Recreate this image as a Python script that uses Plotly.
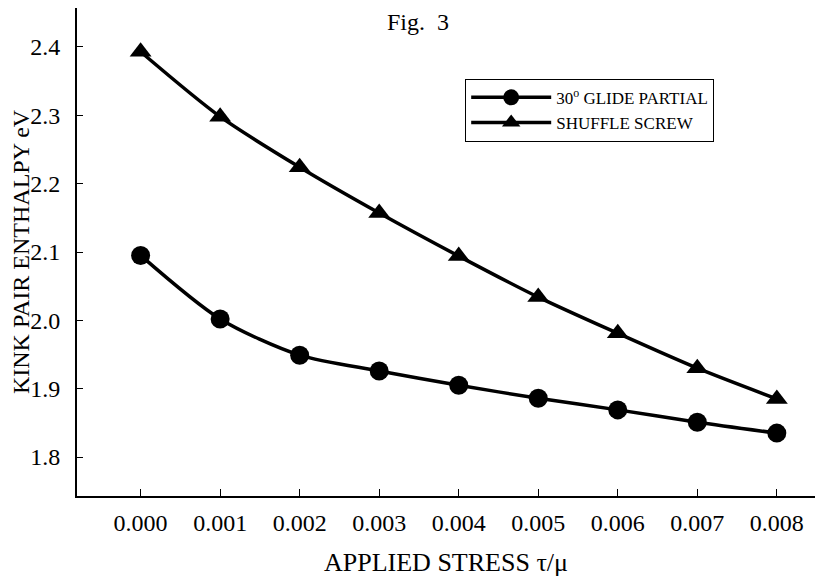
import plotly.graph_objects as go

stress = [0.000, 0.001, 0.002, 0.003, 0.004, 0.005, 0.006, 0.007, 0.008]
glide_partial = [2.095, 2.002, 1.949, 1.926, 1.905, 1.886, 1.869, 1.851, 1.835]
shuffle_screw = [2.393, 2.298, 2.224, 2.157, 2.094, 2.034, 1.981, 1.930, 1.885]
x_tick_labels = ["0.000", "0.001", "0.002", "0.003", "0.004", "0.005", "0.006", "0.007", "0.008"]
y_ticks = [1.8, 1.9, 2.0, 2.1, 2.2, 2.3, 2.4]

FONT = "Liberation Serif"

fig = go.Figure()
fig.add_trace(go.Scatter(
    x=stress, y=glide_partial, mode="lines+markers", name="30<sup>o</sup> GLIDE PARTIAL",
    line=dict(color="black", width=3.5, shape="spline", smoothing=0.8),
    marker=dict(symbol="circle", size=19, color="black"),
))
fig.add_trace(go.Scatter(
    x=stress, y=shuffle_screw, mode="lines+markers", name="SHUFFLE SCREW",
    line=dict(color="black", width=3.5, shape="spline", smoothing=0.8),
    marker=dict(symbol="triangle-up", size=19, color="black"),
))

fig.update_layout(
    width=825, height=569,
    margin=dict(l=69, r=18, t=0, b=81, autoexpand=False),
    paper_bgcolor="white", plot_bgcolor="white",
    font=dict(family=FONT, color="black", size=18),
    showlegend=True,
    legend=dict(
        x=0.526, y=0.855, xanchor="left", yanchor="top",
        bordercolor="black", borderwidth=1, bgcolor="white",
        font=dict(family=FONT, size=17, color="black"),
        tracegroupgap=0, itemwidth=80,
    ),
    annotations=[dict(
        text="Fig.  3", x=0.462, y=0.971, xref="paper", yref="paper",
        xanchor="center", yanchor="middle",
        showarrow=False, font=dict(family=FONT, size=24, color="black"),
    )],
)

fig.update_xaxes(
    range=[-0.0008, 0.00848],
    tickvals=stress, ticktext=x_tick_labels,
    ticks="inside", ticklen=7, tickwidth=1, tickcolor="black",
    showline=True, linecolor="black", linewidth=2,
    showgrid=False, zeroline=False, automargin=False,
    tickfont=dict(family=FONT, size=24),
    ticklabelstandoff=4,
    title=dict(text="APPLIED STRESS τ/μ", font=dict(family=FONT, size=26), standoff=20),
)
fig.update_yaxes(
    range=[1.743, 2.457],
    tickvals=y_ticks, ticktext=[f"{v:.1f}" for v in y_ticks],
    ticks="inside", ticklen=6, tickwidth=1, tickcolor="black",
    showline=True, linecolor="black", linewidth=2,
    showgrid=False, zeroline=False, automargin=False,
    tickfont=dict(family=FONT, size=24),
    ticklabelstandoff=10,
    title=dict(text="KINK PAIR ENTHALPY eV", font=dict(family=FONT, size=24), standoff=0),
)

fig.write_html("out.html")
